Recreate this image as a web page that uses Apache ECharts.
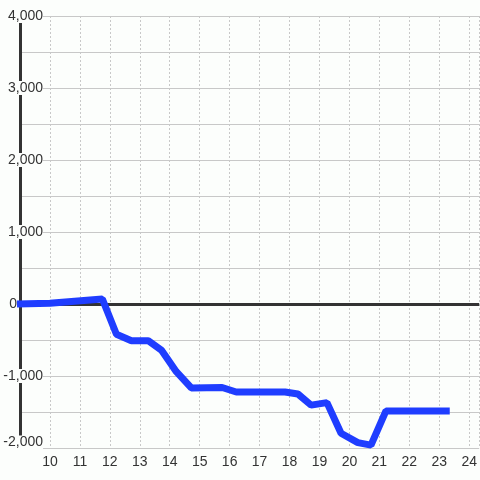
<!DOCTYPE html>
<html>
<head>
<meta charset="utf-8">
<script src="https://cdn.jsdelivr.net/npm/echarts@6/dist/echarts.min.js"></script>
<style>
  html, body { margin: 0; padding: 0; background: #fcfefc; }
  #chart { width: 480px; height: 480px; }
</style>
</head>
<body>
<div id="chart"></div>
<script>
// hour of day -> cumulative value
const hours = [8.9, 10, 11.75, 12.22, 12.72, 13.28, 13.72, 14.22, 14.72, 15.75, 16.22, 17.85, 18.28, 18.72, 19.25, 19.72, 20.28, 20.72, 21.22, 23.35]
const values = [0, 10, 70, -420, -510, -510, -640, -940, -1165, -1160, -1222, -1222, -1250, -1405, -1370, -1796, -1926, -1960, -1485, -1485]

const bg = '#fcfefc'
const textColor = '#333'
const gridColor = '#c8c8c8'
const font = 'Liberation Sans, Arial, sans-serif'

const labelStyle = { color: textColor, fontSize: 14, fontFamily: font }

const chart = echarts.init(document.getElementById('chart'))

chart.setOption({
  backgroundColor: bg,
  animation: false,
  grid: { left: 20, right: 0, top: 16, bottom: 32 },
  xAxis: {
    type: 'value',
    min: 9,
    max: 24.333,
    interval: 1,
    axisLine: { show: false },
    axisTick: { show: false },
    axisLabel: {
      ...labelStyle,
      margin: 7,
      showMinLabel: false,
      showMaxLabel: false,
    },
    splitLine: { lineStyle: { color: gridColor, type: [2, 2] } },
  },
  yAxis: {
    type: 'value',
    min: -2000,
    max: 4000,
    interval: 1000,
    axisLine: { show: true, lineStyle: { color: textColor, width: 3 } },
    axisTick: { show: false },
    minorTick: { show: false, splitNumber: 2 },
    minorSplitLine: { show: true, lineStyle: { color: gridColor, width: 1 } },
    splitLine: { lineStyle: { color: gridColor, width: 1 } },
    axisLabel: {
      ...labelStyle,
      margin: -23,
      formatter: (v) => {
        const s = v.toLocaleString('en-US')
        if (v === 0) return '{z|' + s + '}'
        if (v === -2000) return '{lo|' + s + '}'
        return '{a|' + s + '}'
      },
      rich: {
        a: { ...labelStyle, backgroundColor: bg },
        z: { ...labelStyle, padding: [0, 26, 0, 0] },
        lo: { ...labelStyle, backgroundColor: bg, padding: [0, 0, 11, 0] },
      },
    },
  },
  series: [
    {
      type: 'line',
      z: 3,
      data: hours.map((h, i) => [h, values[i]]),
      showSymbol: false,
      clip: false,
      lineStyle: { color: '#1f3dff', width: 7 },
      itemStyle: { color: '#1f3dff' },
      markLine: {
        z: 1,
        silent: true,
        symbol: 'none',
        label: { show: false },
        lineStyle: { color: textColor, width: 3, type: 'solid' },
        data: [{ yAxis: 0 }],
      },
    },
  ],
})
</script>
</body>
</html>
